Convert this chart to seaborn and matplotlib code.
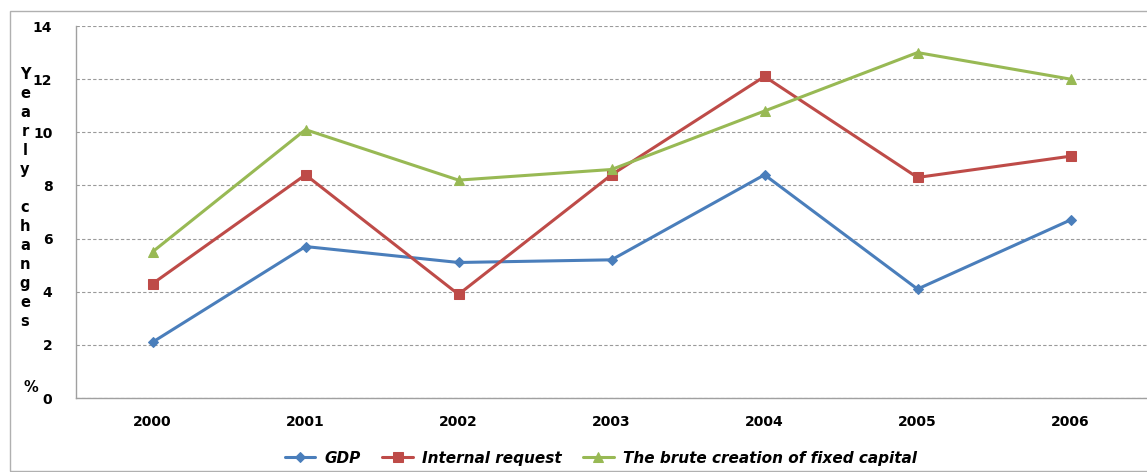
import numpy as np
import pandas as pd
import seaborn as sns
import matplotlib.pyplot as plt
from matplotlib.patches import Rectangle

# values
years = ["2000", "2001", "2002", "2003", "2004", "2005", "2006"]
gdp = [2.1, 5.7, 5.1, 5.2, 8.4, 4.1, 6.7]
internal_request = [4.3, 8.4, 3.9, 8.4, 12.1, 8.3, 9.1]
brute_creation = [5.5, 10.1, 8.2, 8.6, 10.8, 13.0, 12.0]
series_names = ["GDP", "Internal request", "The brute creation of fixed capital"]

df = pd.DataFrame({
    "year": years * 3,
    "value": gdp + internal_request + brute_creation,
    "series": np.repeat(series_names, len(years)),
})

sns.set_style("white")
plt.rcParams["font.family"] = ["DejaVu Sans"]
plt.rcParams["text.color"] = "black"
plt.rcParams["xtick.labelcolor"] = "black"
plt.rcParams["ytick.labelcolor"] = "black"

fig = plt.figure(figsize=(11.47, 4.72), dpi=100)
ax = fig.add_axes([76 / 1147, 74 / 472, 1071 / 1147, 372 / 472])

# light frame around the whole chart, like the Excel chart area
fig.patches.append(Rectangle((10 / 1147, 0.003), 1.2, 460 / 472, transform=fig.transFigure,
                             fill=False, edgecolor="#b0b0b0", linewidth=1.0))

palette = {"GDP": "#4a7ebb", "Internal request": "#be4b48", "The brute creation of fixed capital": "#98b954"}
markers = {"GDP": "D", "Internal request": "s", "The brute creation of fixed capital": "^"}
sizes = {"GDP": 5, "Internal request": 7, "The brute creation of fixed capital": 7}

for name in series_names:
    sub = df[df["series"] == name]
    sns.lineplot(data=sub, x="year", y="value", ax=ax, color=palette[name],
                 marker=markers[name], markersize=sizes[name], linewidth=2.2,
                 markeredgecolor=palette[name], label=name, sort=False)

ax.set_xlim(-0.5, 6.5)
ax.set_ylim(0, 14)
ax.set_yticks(np.arange(0, 15, 2))
ax.yaxis.grid(True, linestyle=(0, (3, 2)), color="#9a9a9a", linewidth=0.8)
ax.xaxis.grid(False)

for side in ["top", "right"]:
    ax.spines[side].set_visible(False)
for side in ["left", "bottom"]:
    ax.spines[side].set_color("#a0a0a0")
    ax.spines[side].set_linewidth(1.0)

ax.set_xticks(np.arange(len(years)))
ax.set_xticklabels(years, fontweight="bold", fontsize=10)
ax.set_xticks(np.arange(-0.5, 7, 1), minor=True)
ax.tick_params(axis="x", which="major", length=0, pad=12)
ax.tick_params(axis="x", which="minor", length=5, color="#a0a0a0", direction="out")
ax.tick_params(axis="y", length=5, color="#a0a0a0", pad=12, labelsize=10)
for lbl in ax.get_yticklabels():
    lbl.set_fontweight("bold")

ax.set_xlabel("")
ax.set_ylabel("")

# stacked vertical axis title
fig.text(25 / 1147, 1 - 198 / 472, "Y\ne\na\nr\nl\ny\n\nc\nh\na\nn\ng\ne\ns",
         fontsize=10.5, fontweight="bold", ha="center", va="center", linespacing=1.33)
fig.text(31 / 1147, 1 - 387 / 472, "%", fontsize=10.5, fontweight="bold", ha="center", va="center")

leg = ax.legend(loc="center", bbox_to_anchor=(0.49, -0.162), ncol=3, frameon=False,
                prop={"weight": "bold", "style": "italic", "size": 11},
                handlelength=2.0, columnspacing=1.4, handletextpad=0.6)

fig.savefig("out.png", dpi=100)
